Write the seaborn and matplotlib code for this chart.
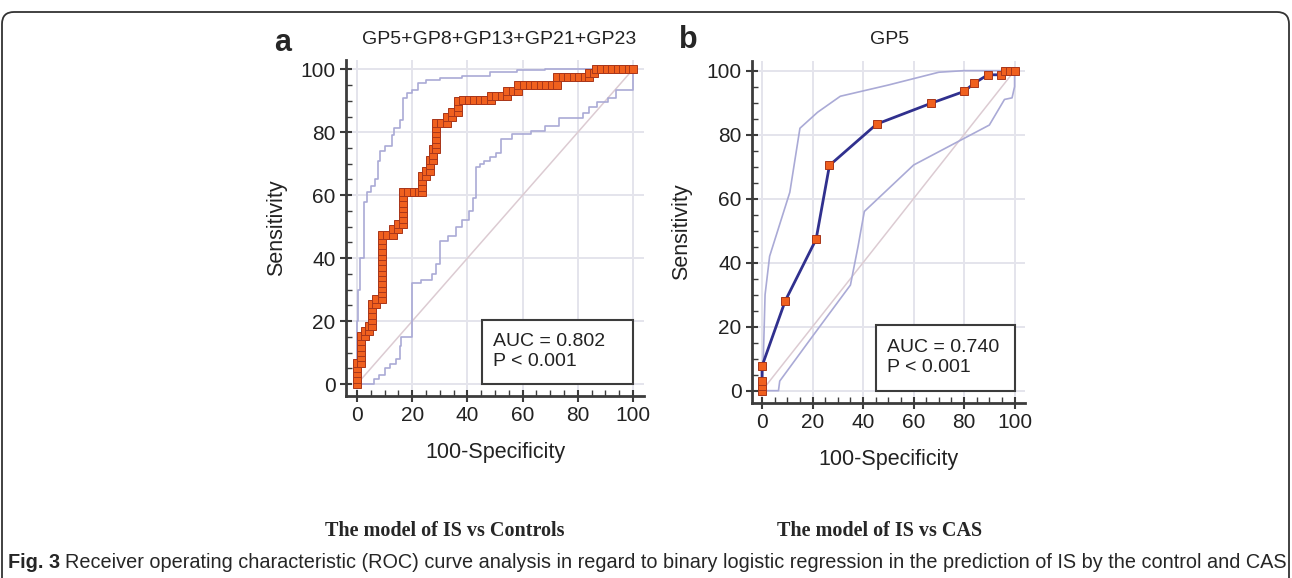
import numpy as np
import pandas as pd
import matplotlib.pyplot as plt
import seaborn as sns
from matplotlib.patches import Rectangle, FancyBboxPatch
from matplotlib.ticker import MultipleLocator
from matplotlib.transforms import IdentityTransform

fpr_a = [0, 0, 0, 0, 0,
         1.5, 1.5, 1.5, 1.5, 1.5, 1.5,
         3, 3, 4.5, 4.5,
         5.5, 5.5, 5.5, 5.5, 5.5,
         7, 7,
         9, 9, 9, 9, 9, 9, 9, 9, 9, 9, 9, 9, 9,
         11, 13, 13, 15, 15,
         16.5, 16.5, 16.5, 16.5, 16.5, 16.5, 16.5,
         18.5, 20.5, 22.5,
         23.5, 23.5, 23.5, 23.5,
         25, 25, 26.5, 26.5, 26.5, 27.5, 27.5, 27.5,
         28.5, 28.5, 28.5, 28.5, 28.5, 28.5,
         30.5, 32.5, 32.5, 34.5, 34.5, 36.5, 36.5, 36.5,
         38.5, 40.5, 42.5, 44.5, 46.5, 48.5, 48.5, 50.5, 52.5, 54.5, 54.5, 56.5, 58.5, 58.5,
         60.5, 62.5, 64.5, 66.5, 68.5, 70.5, 72.5, 72.5, 74.5, 76.5, 78.5, 80.5, 82.5, 84,
         84, 86, 86.5, 88.5, 90.5, 92.5, 94.5, 96.5, 98.5, 100]
tpr_a = [0, 1.7, 3.4, 5.1, 6.8,
         6.8, 8.5, 10.2, 11.9, 13.6, 15.3,
         15.3, 16.9, 16.9, 18.6,
         18.6, 20.3, 22.0, 23.7, 25.4,
         25.4, 27.1,
         27.1, 28.8, 30.5, 32.2, 33.9, 35.6, 37.3, 39.0, 40.7, 42.4, 44.1, 45.8, 47.5,
         47.5, 47.5, 49.2, 49.2, 50.8,
         50.8, 52.5, 54.2, 55.9, 57.6, 59.3, 61.0,
         61.0, 61.0, 61.0,
         61.0, 62.7, 64.4, 66.1,
         66.1, 67.8, 67.8, 69.5, 71.2, 71.2, 72.9, 74.6,
         74.6, 76.3, 78.0, 79.7, 81.4, 83.1,
         83.1, 83.1, 84.7, 84.7, 86.4, 86.4, 88.1, 89.8,
         90.2, 90.2, 90.2, 90.2, 90.2, 90.2, 91.5, 91.5, 91.5, 91.5, 93.2, 93.2, 93.2, 94.9,
         94.9, 94.9, 94.9, 94.9, 94.9, 94.9, 94.9, 97.5, 97.5, 97.5, 97.5, 97.5, 97.5, 97.5,
         98.8, 98.8, 100, 100, 100, 100, 100, 100, 100, 100]

# confidence band of panel a (stepped)
up_x_a = [0, 0, 0.5, 0.5, 1.2, 1.2, 2.5, 2.5, 3.5, 3.5, 5, 5, 6.5, 6.5, 7.5, 7.5, 8.5, 8.5,
          10, 10, 12.5, 12.5, 13.5, 13.5, 15.5, 15.5, 16.5, 16.5, 18, 18, 20, 20, 22, 22,
          25, 25, 30, 30, 38, 38, 48, 48, 58, 58, 68, 68, 100]
up_y_a = [0, 20, 20, 30, 30, 40, 40, 58, 58, 61, 61, 63, 63, 65, 65, 71, 71, 74,
          74, 75.5, 75.5, 79, 79, 81.5, 81.5, 84, 84, 91, 91, 92.5, 92.5, 93.5, 93.5, 95.5,
          95.5, 96.5, 96.5, 97.3, 97.3, 98, 98, 99, 99, 99.7, 99.7, 100, 100]
lo_x_a = [0, 6, 6, 8, 8, 10, 10, 12, 12, 14, 14, 15.5, 15.5, 16, 16, 20, 20, 23, 23, 27, 27,
          28.5, 28.5, 30, 30, 33, 33, 36, 36, 38, 38, 40.5, 40.5, 42, 42, 43, 43, 44.5, 44.5,
          46, 46, 48, 48, 50.5, 50.5, 52, 52, 56, 56, 63, 63, 68, 68, 73, 73, 82, 82, 84, 84,
          87, 87, 91, 91, 94, 94, 100, 100]
lo_y_a = [0, 0, 1.5, 1.5, 3, 3, 5, 5, 6.5, 6.5, 8, 8, 12, 12, 15, 15, 32, 32, 33, 33, 35,
          35, 38, 38, 45.5, 45.5, 47, 47, 50, 50, 52, 52, 55, 55, 59, 59, 69, 69, 70,
          70, 71, 71, 72, 72, 73.5, 73.5, 78, 78, 79.5, 79.5, 80.5, 80.5, 82, 82, 84.4, 84.4, 86, 86, 88,
          88, 89.5, 89.5, 91, 91, 93.3, 93.3, 100]

# panel b : GP5 (IS vs CAS)
fpr_b = [0, 0, 0, 0, 9.2, 21.4, 26.7, 45.4, 66.9, 80, 84.1, 89.4, 94.8, 96.1, 98, 100]
tpr_b = [0, 1.5, 3, 7.7, 28.1, 47.3, 70.4, 83.3, 89.8, 93.5, 96.1, 98.7, 98.7, 100, 100, 100]
up_x_b = [0, 0.5, 1.2, 3, 7, 11, 15, 22, 31, 50, 70, 80, 100]
up_y_b = [0, 10, 30, 42, 52, 62, 82, 87, 92, 95.5, 99.5, 100, 100]
lo_x_b = [0, 6.5, 7, 20, 35, 38, 40.5, 60, 78, 90, 96, 99, 100, 100]
lo_y_b = [0, 0, 3, 17, 33, 45, 56, 70.5, 78, 83, 91, 91.5, 95, 100]

diag = [0, 100]
titles = ['GP5+GP8+GP13+GP21+GP23', 'GP5']
auc_text = ['AUC = 0.802\nP < 0.001', 'AUC = 0.740\nP < 0.001']
models = ['The model of IS vs Controls', 'The model of IS vs CAS']

sns.set_theme(style='white')
plt.rcParams['font.family'] = ['Liberation Sans', 'DejaVu Sans']

W, H = 1292, 578
fig = plt.figure(figsize=(W / 100, H / 100), dpi=100)
fig.patch.set_facecolor('white')

ax_a = fig.add_axes([0.2678, 0.3154, 0.2307, 0.581])
ax_b = fig.add_axes([0.582, 0.3036, 0.2111, 0.5908])

band_col = '#aaaad6'
diag_col = '#dccbd2'
orange = '#f0601e'
edge = '#a8361a'


def style_axis(ax):
    ax.set_xlim(-4, 104)
    ax.set_ylim(-3.7, 103)
    ax.xaxis.set_major_locator(MultipleLocator(20))
    ax.yaxis.set_major_locator(MultipleLocator(20))
    ax.xaxis.set_minor_locator(MultipleLocator(5))
    ax.yaxis.set_minor_locator(MultipleLocator(5))
    ax.grid(True, which='major', color='#e4e4ec', lw=1.4)
    ax.set_axisbelow(True)
    for s in ['top', 'right']:
        ax.spines[s].set_visible(False)
    for s in ['left', 'bottom']:
        ax.spines[s].set_color('#3c3c3c')
        ax.spines[s].set_linewidth(2)
    ax.tick_params(which='major', direction='inout', length=9, width=1.5,
                   color='#3c3c3c', labelsize=15, labelcolor='#222222', pad=3,
                   bottom=True, left=True)
    ax.tick_params(which='minor', direction='in', length=4, width=1,
                   color='#3c3c3c', bottom=True, left=True)
    ax.set_xlabel('100-Specificity', fontsize=15.5, color='#222222', labelpad=12)
    ax.set_ylabel('Sensitivity', fontsize=15.5, color='#222222', labelpad=10)


# panel a
sns.lineplot(x=diag, y=diag, ax=ax_a, color=diag_col, lw=1.1, sort=False, estimator=None)
sns.lineplot(x=up_x_a, y=up_y_a, ax=ax_a, color=band_col, lw=1.2, sort=False, estimator=None)
sns.lineplot(x=lo_x_a, y=lo_y_a, ax=ax_a, color=band_col, lw=1.2, sort=False, estimator=None)
sns.lineplot(x=fpr_a, y=tpr_a, ax=ax_a, color=edge, lw=1.2, sort=False, estimator=None,
             marker='s', markersize=6, markerfacecolor=orange,
             markeredgecolor=edge, markeredgewidth=0.7)

# panel b
sns.lineplot(x=diag, y=diag, ax=ax_b, color=diag_col, lw=1.1, sort=False, estimator=None)
sns.lineplot(x=up_x_b, y=up_y_b, ax=ax_b, color=band_col, lw=1.2, sort=False, estimator=None)
sns.lineplot(x=lo_x_b, y=lo_y_b, ax=ax_b, color=band_col, lw=1.2, sort=False, estimator=None)
sns.lineplot(x=fpr_b, y=tpr_b, ax=ax_b, color='#30308e', lw=2, sort=False, estimator=None,
             marker='s', markersize=5.5, markerfacecolor=orange,
             markeredgecolor=edge, markeredgewidth=0.7)

for ax, txt in zip([ax_a, ax_b], auc_text):
    style_axis(ax)
    ax.add_patch(Rectangle((45.3, 0), 54.8, 20.5, facecolor='white',
                           edgecolor='#3c3c3c', lw=1.5, zorder=5))
    ax.text(49.4, 10.3, txt, fontsize=14, color='#222222', va='center', ha='left',
            linespacing=1.25, zorder=6)

# panel letters and titles
fig.text(283 / W, 1 - 43 / H, 'a', fontsize=22, fontweight='bold', ha='center', va='center')
fig.text(688 / W, 1 - 40 / H, 'b', fontsize=22, fontweight='bold', ha='center', va='center')
fig.text(499 / W, 1 - 39.5 / H, titles[0], fontsize=14, color='#222222', ha='center', va='center')
fig.text(890 / W, 1 - 40 / H, titles[1], fontsize=14, color='#222222', ha='center', va='center')

# model names under the panels
fig.text(445 / W, 1 - 531 / H, models[0], fontsize=14.5, fontweight='bold',
         family=['Liberation Serif', 'DejaVu Serif'], ha='center', va='center')
fig.text(880 / W, 1 - 531 / H, models[1], fontsize=14.5, fontweight='bold',
         family=['Liberation Serif', 'DejaVu Serif'], ha='center', va='center')

# caption
cap_font = ['Liberation Sans', 'DejaVu Sans']
t1 = fig.text(8 / W, 1 - 562 / H, 'Fig. 3', fontsize=14.3, fontweight='bold',
              family=cap_font, ha='left', va='center')
fig.canvas.draw()
bb = t1.get_window_extent()
fig.text((bb.x1 + 5) / W, 1 - 562 / H,
         'Receiver operating characteristic (ROC) curve analysis in regard to binary '
         'logistic regression in the prediction of IS by the control and CAS',
         fontsize=14.3, family=cap_font, ha='left', va='center')

# rounded frame round the figure
frame = FancyBboxPatch((2, -40), W - 5, H - 12 + 40,
                       boxstyle='round,pad=0,rounding_size=12',
                       transform=IdentityTransform(), facecolor='none',
                       edgecolor='#333333', lw=1.3)
fig.patches.append(frame)

fig.savefig('out.png', dpi=100)
